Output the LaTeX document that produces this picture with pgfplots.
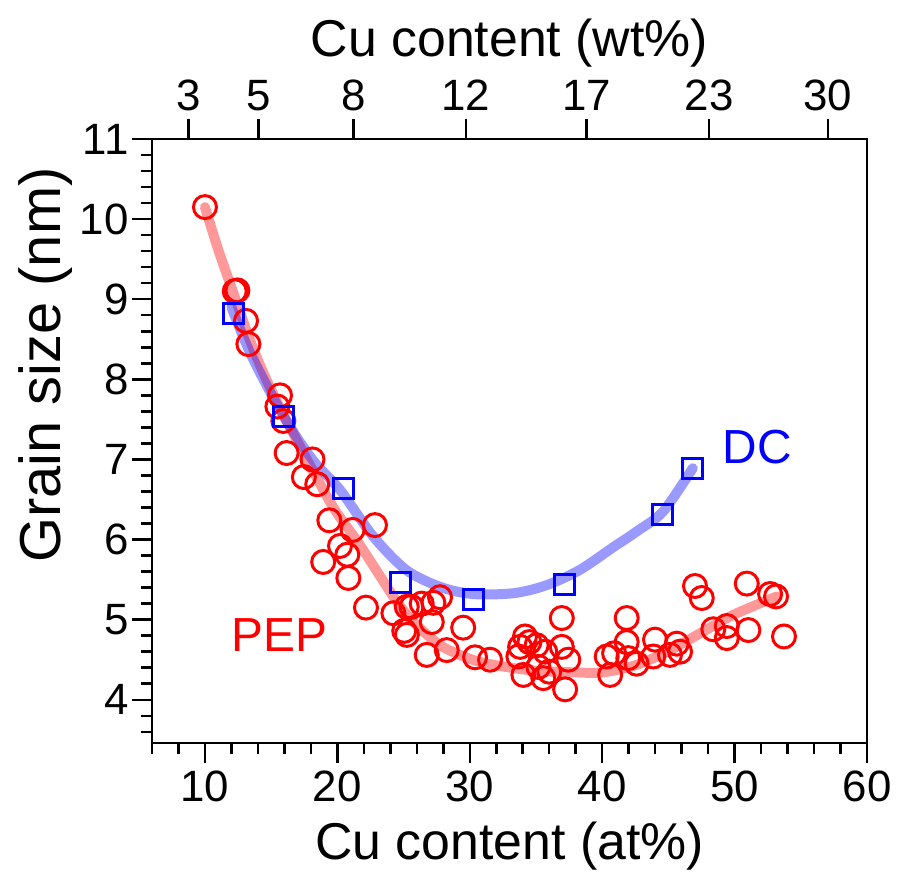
\documentclass[border=0pt]{standalone}
\usepackage{fontspec}
\setmainfont{Liberation Sans}
\usepackage{pgfplots}
\pgfplotsset{compat=1.18}
\usetikzlibrary{calc}

\pgfplotstableread{
x y
10.00 10.15
12.25 9.10
12.45 9.11
13.10 8.73
13.28 8.44
15.47 7.66
15.67 7.80
15.92 7.48
16.17 7.08
17.47 6.78
18.12 7.00
18.48 6.69
18.93 5.72
19.39 6.24
20.20 5.92
20.75 5.81
20.83 5.52
21.15 6.12
22.16 5.15
22.84 6.18
24.23 5.08
25.05 4.86
25.25 4.81
25.24 5.16
25.60 5.16
26.37 5.20
26.75 4.56
27.13 4.97
27.25 5.21
27.75 5.28
28.26 4.62
29.50 4.90
30.40 4.53
31.53 4.50
33.67 4.54
33.80 4.66
34.05 4.31
34.17 4.79
34.50 4.72
35.05 4.68
35.18 4.41
35.55 4.27
35.70 4.60
36.00 4.35
36.95 5.02
36.95 4.66
37.20 4.13
37.44 4.50
40.34 4.54
40.60 4.31
40.90 4.58
41.85 5.02
41.85 4.72
41.97 4.52
42.60 4.45
43.86 4.54
43.99 4.75
45.12 4.56
45.63 4.70
45.88 4.60
47.01 5.42
47.52 5.27
48.39 4.88
49.41 4.92
49.41 4.77
50.92 5.45
51.04 4.87
52.68 5.32
53.13 5.29
53.73 4.79
}\pep

\pgfplotstableread{
x y
12.19 8.82
15.90 7.53
20.45 6.64
24.78 5.46
30.30 5.25
37.15 5.44
44.57 6.31
46.84 6.89
}\dc

\begin{document}
\begin{tikzpicture}
\pgfplotsset{
  every axis/.append style={
    scale only axis, width=715bp, height=604bp,
    xmin=6, xmax=60, ymin=3.46, ymax=11,
    axis line style={line width=2.5bp, black},
    tick style={line width=2.5bp, black},
    major tick length=20bp, minor tick length=11bp,
    tick align=outside,
    tick label style={font=\fontsize{44}{44}\selectfont},
    label style={font=\fontsize{52}{52}\selectfont},
    /pgf/number format/assume math mode=true,
  }
}
\begin{axis}[
  xtick={10,20,...,60}, minor xtick={6,8,...,58},
  ytick={4,...,11}, minor ytick={3.6,3.8,...,10.9},
  xtick pos=bottom, ytick pos=left,
  xticklabel style={yshift=-4bp},
  xlabel={Cu content (at\%)}, ylabel={Grain size (nm)},
  xlabel style={yshift=-14bp},
  ylabel style={font=\fontsize{58}{58}\selectfont, at={(ticklabel cs:0.626)}},
  clip=false]
  \coordinate (sw) at (rel axis cs:0,0);
  \coordinate (ne) at (rel axis cs:1,1);
  \addplot[only marks, mark=o, mark size=11.5bp, mark options={line width=3bp, draw=red}] table {\pep};
  \addplot[only marks, mark=square, mark size=10bp, mark options={line width=3bp, draw=blue}] table {\dc};
  \addplot[smooth, line width=10bp, line cap=round, red, opacity=0.4] coordinates {
    (10,10.15) (11,9.62) (12.1,9.1) (13.6,8.4) (15.2,7.8) (17.7,7.0) (19.7,6.4)
    (21.5,5.98) (23.2,5.55) (24.5,5.22) (25.7,4.98) (27,4.78) (28.3,4.63) (30.8,4.47)
    (34.5,4.37) (38.3,4.34) (40,4.34) (42.5,4.43) (44.9,4.6) (47.4,4.83) (49.9,5.06) (53.2,5.29)};
  \addplot[smooth, line width=10bp, line cap=round, blue, opacity=0.4] coordinates {
    (12.0,8.9) (13.5,8.3) (15.9,7.55) (18.1,7.0) (20.2,6.62) (22.7,6.04) (25.2,5.62)
    (27.75,5.41) (30.2,5.32) (33.3,5.33) (35.8,5.43) (38.3,5.62) (40.8,5.9)
    (42.6,6.1) (44.6,6.35) (46.84,6.89)};
  \node[text=blue, font=\fontsize{48}{48}\selectfont] at (axis cs:51.7,7.15) {DC};
  \node[text=red, font=\fontsize{48}{48}\selectfont] at (axis cs:15.6,4.81) {PEP};
\end{axis}
\begin{axis}[
  axis x line*=top, axis y line=none,
  xtick={8.748,14.03,21.23,29.71,38.83,48.08,57.05},
  xticklabels={3,5,8,12,17,23,30},
  xticklabel style={yshift=5bp},
  xlabel style={yshift=5bp},
  xlabel={Cu content (wt\%)}]
\end{axis}
\pgfresetboundingbox
\path[use as bounding box] ($(sw)+(-152bp,-130bp)$) rectangle ($(ne)+(34bp,139bp)$);
\end{tikzpicture}
\end{document}
